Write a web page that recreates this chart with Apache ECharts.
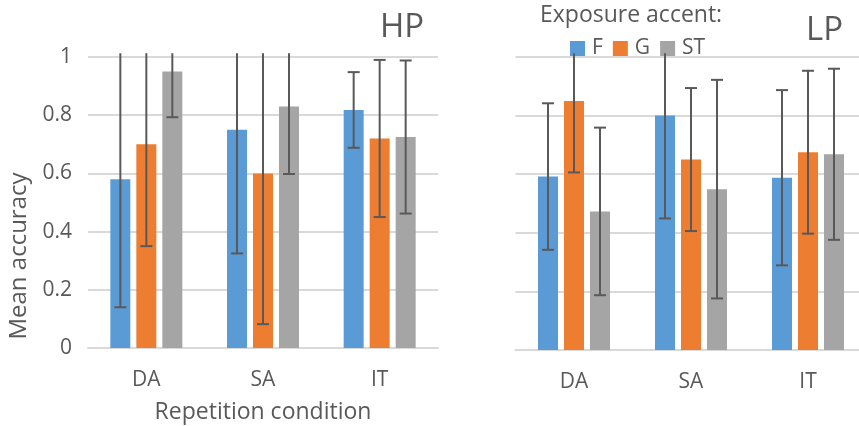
<!DOCTYPE html>
<html>
<head>
<meta charset="utf-8">
<script src="https://cdn.jsdelivr.net/npm/echarts@6/dist/echarts.min.js"></script>
<style>
html,body{margin:0;padding:0;background:#fff;}
#chart{width:859px;height:426px;}
</style>
</head>
<body>
<div id="chart"></div>
<script>
// ---- data ----
const categories = ['DA', 'SA', 'IT'];
const accents = ['F', 'G', 'ST'];
const yTicks = [0, 0.2, 0.4, 0.6, 0.8, 1];

// HP panel means and error half-widths
const hpF = [0.58, 0.75, 0.818];
const hpG = [0.70, 0.60, 0.72];
const hpST = [0.95, 0.83, 0.725];
const hpFErr = [0.44, 0.425, 0.13];
const hpGErr = [0.35, 0.518, 0.27];
const hpSTErr = [0.157, 0.232, 0.263];

// LP panel means and error half-widths
const lpF = [0.592, 0.80, 0.588];
const lpG = [0.85, 0.65, 0.675];
const lpST = [0.473, 0.549, 0.668];
const lpFErr = [0.25, 0.351, 0.299];
const lpGErr = [0.244, 0.244, 0.278];
const lpSTErr = [0.286, 0.373, 0.292];

// ---- styling ----
const colors = ['#5B9BD5', '#ED7D31', '#A5A5A5'];
const textColor = '#595959';
const gridColor = '#D9D9D9';
const FONT = '"Open Sans", "Noto Sans", sans-serif';
const BAR_W = 20;
const BAR_GAP = 6;
const CLIP = 1.013; // plot area top (in data units)

const chart = echarts.init(document.getElementById('chart'), null, {renderer: 'canvas'});

function errSeries(name, means, errs, k, axisIdx) {
  const data = means.map((m, i) => [i, m, errs[i]]);
  const off = (k - 1) * (BAR_W + BAR_GAP);
  return {
    name: name,
    type: 'custom',
    xAxisIndex: axisIdx,
    yAxisIndex: axisIdx,
    z: 10,
    silent: true,
    data: data,
    encode: {x: 0, y: 1},
    renderItem: function (params, api) {
      const i = api.value(0), m = api.value(1), e = api.value(2);
      const c = api.coord([i, m]);
      const x = c[0] + off;
      const hiV = Math.min(m + e, CLIP);
      const top = api.coord([i, hiV])[1];
      const bot = api.coord([i, m - e])[1];
      const st = {stroke: '#595959', lineWidth: 2};
      const ch = [
        {type: 'line', shape: {x1: x, y1: top, x2: x, y2: bot}, style: st},
        {type: 'line', shape: {x1: x - 6, y1: bot, x2: x + 6, y2: bot}, style: st}
      ];
      if (m + e <= CLIP) {
        ch.push({type: 'line', shape: {x1: x - 6, y1: top, x2: x + 6, y2: top}, style: st});
      }
      return {type: 'group', children: ch};
    }
  };
}

function barSeries(name, vals, k, axisIdx) {
  return {
    name: name,
    type: 'bar',
    xAxisIndex: axisIdx,
    yAxisIndex: axisIdx,
    barWidth: BAR_W,
    barGap: (BAR_GAP / BAR_W * 100) + '%',
    itemStyle: {color: colors[k]},
    data: vals
  };
}

function xAxisCfg(gridIdx, withName) {
  return {
    type: 'category',
    gridIndex: gridIdx,
    data: categories,
    axisLine: {lineStyle: {color: gridColor, width: 2}},
    axisTick: {show: false},
    axisLabel: {color: textColor, fontSize: 21, fontFamily: FONT, margin: 22},
    name: withName ? 'Repetition condition' : '',
    nameLocation: 'middle',
    nameGap: 53,
    nameTextStyle: {color: textColor, fontSize: 23, fontFamily: FONT}
  };
}

function yAxisCfg(gridIdx, showLabels) {
  return {
    type: 'value',
    gridIndex: gridIdx,
    min: yTicks[0],
    max: yTicks[yTicks.length - 1],
    interval: yTicks[1] - yTicks[0],
    axisLine: {show: false},
    axisTick: {show: false},
    splitLine: {lineStyle: {color: gridColor, width: 2}},
    axisLabel: {show: showLabels, color: textColor, fontSize: 21, fontFamily: FONT, margin: 16}
  };
}

const option = {
  animation: false,
  backgroundColor: '#ffffff',
  textStyle: {fontFamily: FONT},
  grid: [
    {left: 88, top: 57, width: 350, height: 291, outerBoundsMode: 'none', containLabel: false},
    {left: 515.5, top: 57, width: 351, height: 293, outerBoundsMode: 'none', containLabel: false}
  ],
  xAxis: [xAxisCfg(0, true), xAxisCfg(1, false)],
  yAxis: [yAxisCfg(0, true), yAxisCfg(1, false)],
  legend: {
    data: accents,
    left: 565,
    top: 33,
    itemWidth: 15,
    itemHeight: 15,
    itemGap: 10,
    icon: 'rect',
    textStyle: {color: textColor, fontSize: 21, fontFamily: FONT, padding: [0, 0, 0, 2]}
  },
  graphic: [
    {type: 'text', left: 540, top: 4, style: {text: 'Exposure accent:', fill: textColor, font: '23px ' + FONT}},
    {type: 'text', left: 380, top: 11, style: {text: 'HP', fill: textColor, font: '33px ' + FONT}},
    {type: 'text', left: 806, top: 14, style: {text: 'LP', fill: textColor, font: '33px ' + FONT}},
    {type: 'text', x: 19, y: 256, rotation: Math.PI / 2,
      style: {text: 'Mean accuracy', fill: textColor, font: '24px ' + FONT, align: 'center', verticalAlign: 'middle'}}
  ],
  series: [
    barSeries('F', hpF, 0, 0),
    barSeries('G', hpG, 1, 0),
    barSeries('ST', hpST, 2, 0),
    barSeries('F', lpF, 0, 1),
    barSeries('G', lpG, 1, 1),
    barSeries('ST', lpST, 2, 1),
    errSeries('F', hpF, hpFErr, 0, 0),
    errSeries('G', hpG, hpGErr, 1, 0),
    errSeries('ST', hpST, hpSTErr, 2, 0),
    errSeries('F', lpF, lpFErr, 0, 1),
    errSeries('G', lpG, lpGErr, 1, 1),
    errSeries('ST', lpST, lpSTErr, 2, 1)
  ]
};
chart.setOption(option);
</script>
</body>
</html>
